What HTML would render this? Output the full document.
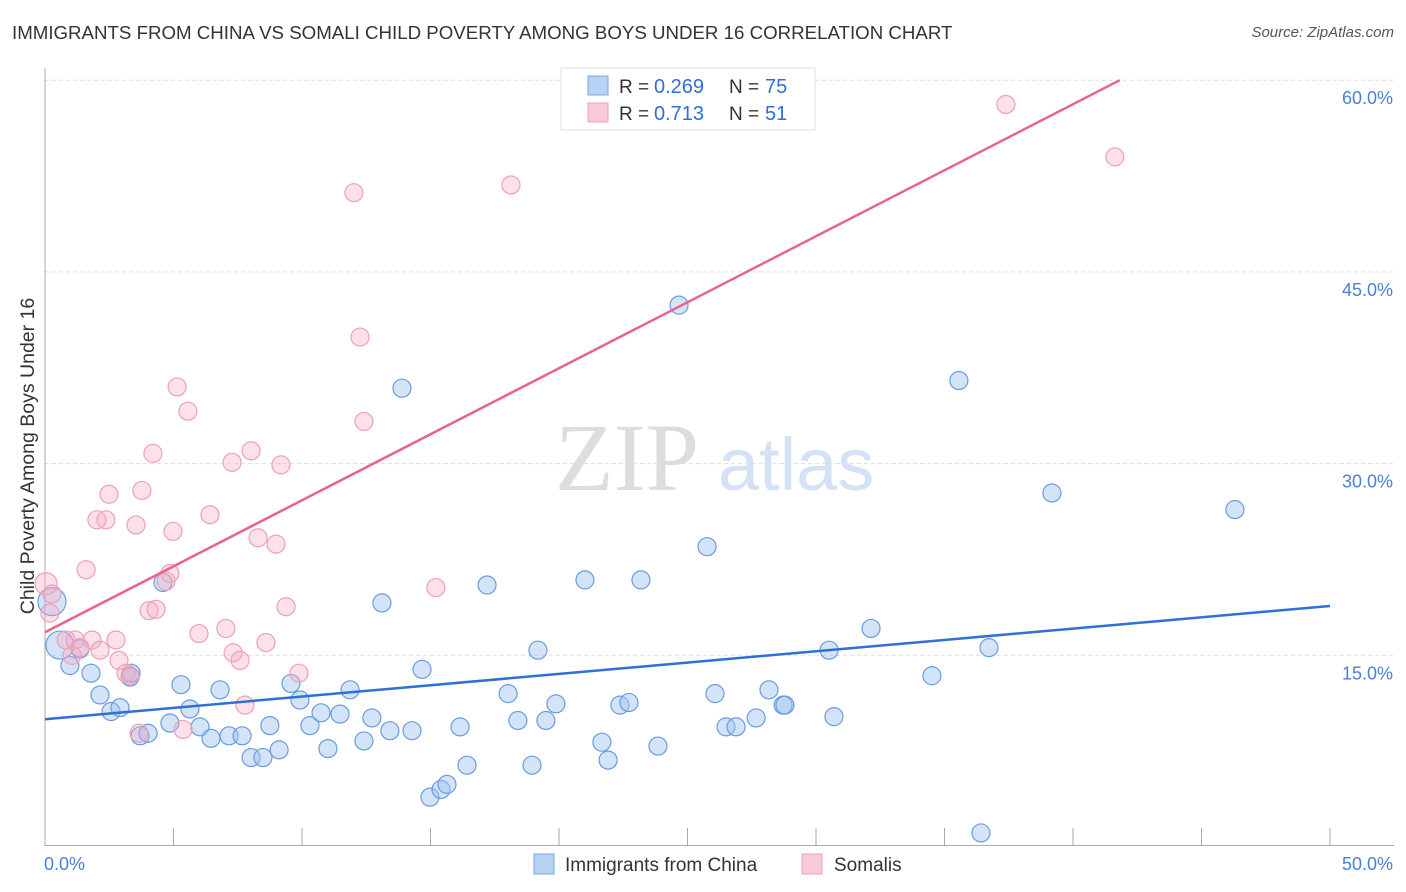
<!DOCTYPE html>
<html><head><meta charset="utf-8"><style>
body{margin:0;background:#fff;font-family:"Liberation Sans",sans-serif;}
#wrap{position:relative;width:1406px;height:892px;overflow:hidden;}
.t{position:absolute;white-space:nowrap;}
</style></head><body>
<div id="wrap">
<div class="t" style="left:12px;top:22px;font-size:18.7px;color:#333;">IMMIGRANTS FROM CHINA VS SOMALI CHILD POVERTY AMONG BOYS UNDER 16 CORRELATION CHART</div>
<div class="t" style="right:12px;top:24px;font-size:15px;color:#555;font-style:italic;">Source: ZipAtlas.com</div>
<svg id="svg" width="1406" height="892" style="position:absolute;left:0;top:0;"></svg>
</div>
<script>
const yTicks=[15,30,45,60];
const xTickLabels=["0.0%","50.0%"];
const chinaX=[0.27,0.58,0.97,1.36,1.79,2.14,2.57,2.92,3.31,3.35,3.70,4.01,4.59,4.86,5.29,5.64,6.03,6.46,6.81,7.16,7.67,8.02,8.48,8.75,9.11,9.57,9.92,10.31,10.74,11.01,11.48,11.87,12.41,12.72,13.11,13.42,13.89,14.28,14.67,14.98,15.41,15.64,16.15,16.42,17.20,18.02,18.40,18.95,19.18,19.49,19.88,21.01,21.67,21.91,22.37,22.72,23.19,23.85,24.67,25.76,26.07,26.50,26.89,27.67,28.17,28.72,28.79,30.51,30.70,32.14,34.51,35.56,36.42,36.73,39.18,46.30];
const chinaY=[19.2,15.8,14.2,15.5,13.6,11.9,10.6,10.9,13.3,13.6,8.7,8.9,20.7,9.7,12.7,10.8,9.4,8.5,12.3,8.7,8.7,7.0,7.0,9.5,7.6,12.8,11.5,9.5,10.5,7.7,10.4,12.3,8.3,10.1,19.1,9.1,35.9,9.1,13.9,3.9,4.5,4.9,9.4,6.4,20.5,12.0,9.9,6.4,15.4,9.9,11.2,20.9,8.2,6.8,11.1,11.3,20.9,7.9,42.4,23.5,12.0,9.4,9.4,10.1,12.3,11.1,11.1,15.4,10.2,17.1,13.4,36.5,1.1,15.6,27.7,26.4];
const somaliX=[0.04,0.19,0.27,0.82,1.17,1.05,1.36,1.60,1.83,2.02,2.14,2.37,2.49,2.76,2.88,3.15,3.31,3.54,3.66,3.77,4.05,4.20,4.32,4.71,4.86,4.98,5.14,5.37,5.56,5.99,6.42,7.04,7.28,7.32,7.59,7.78,8.02,8.29,8.60,8.99,9.18,9.38,9.88,12.02,12.26,12.41,15.21,18.13,37.39,41.63];
const somaliY=[20.6,18.3,19.8,16.2,16.2,15.0,15.6,21.7,16.2,25.6,15.4,25.6,27.6,16.2,14.6,13.6,13.4,25.2,8.9,27.9,18.5,30.8,18.6,20.8,21.4,24.7,36.0,9.2,34.1,16.7,26.0,17.1,30.1,15.2,14.6,11.1,31.0,24.2,16.0,23.7,29.9,18.8,13.6,51.2,39.9,33.3,20.3,51.8,58.1,54.0];
const chinaLine=[10.0,18.86];
const somaliLine=[16.8,1.033];
const X=v=>45+v*25.7, Y=v=>847-v*12.78;
const svg=document.getElementById('svg');const NS='http://www.w3.org/2000/svg';
function mk(tag,at){const e=document.createElementNS(NS,tag);for(const k in at)e.setAttribute(k,at[k]);svg.appendChild(e);return e;}
function tx(x,y,s,at){const e=mk('text',Object.assign({x:x,y:y,'font-family':'Liberation Sans, sans-serif'},at));e.textContent=s;return e;}
yTicks.forEach(v=>{const l=mk('line',{x1:45,x2:1394,y1:Y(v),y2:Y(v),stroke:'#ddd','stroke-dasharray':'4,3'});


const t=tx(1393,Y(v)+24,v.toFixed(1)+'%',{'font-size':18,fill:'#4a7fd6','text-anchor':'end'});

});
mk('line',{x1:45,x2:45,y1:68,y2:846,stroke:'#aaa'});
const ax=mk('line',{x1:45,x2:1394,y1:845.5,y2:845.5,stroke:'#aaa'});


for(let i=0;i<=10;i++){mk('line',{x1:X(i*5),x2:X(i*5),y1:828,y2:846,stroke:'#aaa'});}
const xl0=tx(44,870,xTickLabels[0],{'font-size':18,fill:'#4a7fd6'});


const xl1=tx(1393,870,xTickLabels[1],{'font-size':18,fill:'#4a7fd6','text-anchor':'end'});


const yt=tx(0,0,'Child Poverty Among Boys Under 16',{'font-size':19.5,fill:'#333','text-anchor':'middle',transform:'translate(34,456) rotate(-90)'});


const w1=tx(555,490,'ZIP',{'font-size':96,fill:'#ddd','font-family':'Liberation Serif, serif'});


tx(718,490,'atlas',{'font-size':74,fill:'#d4e2f5'});
chinaX.forEach((x,i)=>{const big=i<2;const c=mk('circle',{cx:X(x),cy:Y(chinaY[i]),r:big?14:9,fill:'rgba(160,195,240,0.45)',stroke:'#6a9be0','stroke-width':1.2});

});
somaliX.forEach((x,i)=>{const c=mk('circle',{cx:X(x),cy:Y(somaliY[i]),r:i==0?11:9,fill:'rgba(245,170,195,0.35)',stroke:'#eea0b8','stroke-width':1.2});

});
const bl=mk('line',{x1:X(0),y1:Y(chinaLine[0]),x2:X(50),y2:Y(chinaLine[1]),stroke:'#2f6fd6','stroke-width':2.5});


const xe=(60-somaliLine[0])/somaliLine[1];
const pl=mk('line',{x1:X(0),y1:Y(somaliLine[0]),x2:X(xe),y2:Y(60),stroke:'#e8648f','stroke-width':2.5});


const lg=mk('rect',{x:561,y:68,width:254,height:62,fill:'#fff',stroke:'#ddd'});


mk('rect',{x:588,y:76,width:20,height:19,fill:'#b8d2f4',stroke:'#7aa6e6'});
mk('rect',{x:588,y:103,width:20,height:19,fill:'#f9c9d7',stroke:'#efa0b8'});
[[0,'0.269','75'],[27,'0.713','51']].forEach(r=>{
tx(619,93+r[0],'R = ',{'font-size':19,fill:'#333'});
tx(654,93+r[0],r[1],{'font-size':20,fill:'#2f6fd6'});
tx(729,93+r[0],'N = ',{'font-size':19,fill:'#333'});
tx(765,93+r[0],r[2],{'font-size':20,fill:'#2f6fd6'});});
mk('rect',{x:534,y:854,width:20,height:20,fill:'#b8d2f4',stroke:'#7aa6e6'});
const le1=tx(565,871,'Immigrants from China',{'font-size':19,fill:'#333'});


mk('rect',{x:802,y:854,width:20,height:20,fill:'#f9c9d7',stroke:'#efa0b8'});
const le2=tx(834,871,'Somalis',{'font-size':19,fill:'#333'});


</script>
</body></html>
